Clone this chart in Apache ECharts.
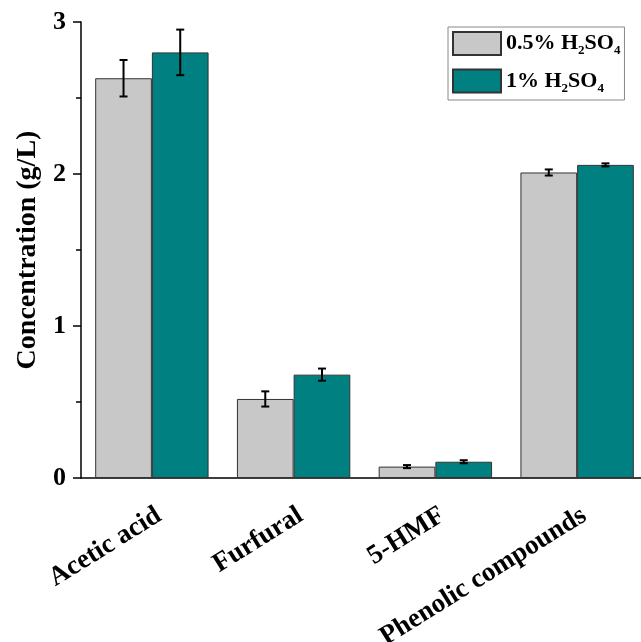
<!DOCTYPE html>
<html>
<head>
<meta charset="utf-8">
<script src="https://cdn.jsdelivr.net/npm/echarts@6/dist/echarts.min.js"></script>
<style>
html, body { margin: 0; padding: 0; background: #fff; }
#chart { width: 641px; height: 642px; }
</style>
</head>
<body>
<div id="chart"></div>
<script>
// Data
var categories = ['Acetic acid', 'Furfural', '5-HMF', 'Phenolic compounds'];
var lowAcid = [2.63, 0.52, 0.075, 2.01];
var lowAcidErr = [0.12, 0.05, 0.01, 0.02];
var highAcid = [2.80, 0.68, 0.107, 2.06];
var highAcidErr = [0.15, 0.04, 0.01, 0.01];
var yTicks = [0, 1, 2, 3];

var serif = '"Liberation Serif", "Times New Roman", serif';

function errData(vals, errs) {
    return vals.map(function (v, i) { return [i, v - errs[i], v + errs[i]]; });
}

// error bars drawn next to the grouped bars
function errorBars(side) {
    return function (params, api) {
        var x = api.value(0);
        var lo = api.coord([x, api.value(1)]);
        var hi = api.coord([x, api.value(2)]);
        var band = api.size([1, 0])[0];
        var barW = band * 0.4;
        var cx = lo[0] + side * barW / 2;
        var cap = 4;
        var style = { stroke: '#000', lineWidth: 2 };
        return {
            type: 'group',
            children: [
                { type: 'line', shape: { x1: cx, y1: hi[1], x2: cx, y2: lo[1] }, style: style },
                { type: 'line', shape: { x1: cx - cap, y1: hi[1], x2: cx + cap, y2: hi[1] }, style: style },
                { type: 'line', shape: { x1: cx - cap, y1: lo[1], x2: cx + cap, y2: lo[1] }, style: style }
            ]
        };
    };
}

var subRich = {
    n: { fontFamily: serif, fontWeight: 'bold', fontSize: 22, color: '#000', lineHeight: 28 },
    s: { fontFamily: serif, fontWeight: 'bold', fontSize: 13, color: '#000', lineHeight: 28, verticalAlign: 'bottom', padding: [12, 0, 0, 0] }
};

var chart = echarts.init(document.getElementById('chart'));

chart.setOption({
    backgroundColor: '#fff',
    animation: false,
    textStyle: { fontFamily: serif },
    grid: { left: 81, top: 22, width: 567, bottom: 164, containLabel: false, outerBoundsMode: 'none' },
    legend: {
        left: 448,
        top: 27,
        orient: 'vertical',
        padding: [4, 4, 5, 4],
        itemGap: 11,
        itemWidth: 48,
        itemHeight: 23,
        borderColor: '#888',
        borderWidth: 1,
        icon: 'rect',
        data: ['0.5% H2SO4', '1% H2SO4'],
        formatter: function (name) {
            return '{n|' + name.replace(' H2SO4', ' H') + '}{s|2}{n|SO}{s|4}';
        },
        textStyle: { rich: subRich, padding: [0, 0, 0, 0] }
    },
    xAxis: [{
        type: 'category',
        data: categories,
        axisLine: { lineStyle: { color: '#000', width: 1.5 } },
        axisTick: { alignWithLabel: true, length: 9, lineStyle: { color: '#000', width: 1.5 } },
        axisLabel: {
            rotate: 32,
            interval: 0,
            margin: 24,
            verticalAlign: 'top',
            color: '#000',
            fontFamily: serif,
            fontWeight: 'bold',
            fontSize: 27
        }
    }, {
        type: 'category',
        data: categories,
        position: 'bottom',
        axisLine: { show: false },
        axisTick: { length: 5, lineStyle: { color: '#000', width: 1.5 } },
        axisLabel: { show: false }
    }],
    yAxis: {
        type: 'value',
        min: yTicks[0],
        max: yTicks[yTicks.length - 1],
        interval: 1,
        name: 'Concentration (g/L)',
        nameLocation: 'middle',
        nameGap: 39,
        nameTextStyle: { color: '#000', fontFamily: serif, fontWeight: 'bold', fontSize: 28 },
        axisLine: { show: true, lineStyle: { color: '#000', width: 1.5 } },
        axisTick: { show: true, length: 8, lineStyle: { color: '#000', width: 1.5 } },
        minorTick: { show: true, splitNumber: 2, length: 5, lineStyle: { color: '#000', width: 1.5 } },
        splitLine: { show: false },
        axisLabel: { color: '#000', fontFamily: serif, fontWeight: 'bold', fontSize: 26, margin: 15 }
    },
    series: [{
        name: '0.5% H2SO4',
        type: 'bar',
        data: lowAcid,
        barGap: '0%',
        barCategoryGap: '20%',
        itemStyle: { color: '#c8c8c8', borderColor: '#333', borderWidth: 1 }
    }, {
        name: '1% H2SO4',
        type: 'bar',
        data: highAcid,
        barGap: '0%',
        barCategoryGap: '20%',
        itemStyle: { color: '#008080', borderColor: '#333', borderWidth: 1 }
    }, {
        type: 'custom',
        renderItem: errorBars(-1),
        data: errData(lowAcid, lowAcidErr),
        z: 10
    }, {
        type: 'custom',
        renderItem: errorBars(1),
        data: errData(highAcid, highAcidErr),
        z: 10
    }]
});
</script>
</body>
</html>
